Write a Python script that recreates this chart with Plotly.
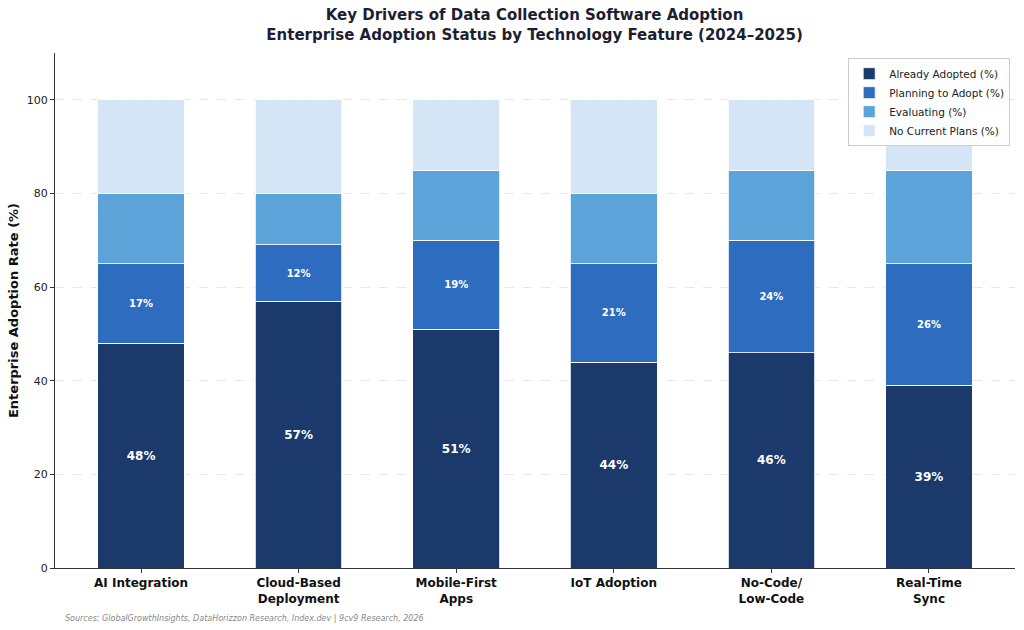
import plotly.graph_objects as go

categories = ["AI Integration", "Cloud-Based<br>Deployment", "Mobile-First<br>Apps",
              "IoT Adoption", "No-Code/<br>Low-Code", "Real-Time<br>Sync"]
adopted = [48, 57, 51, 44, 46, 39]
planning = [17, 12, 19, 21, 24, 26]
evaluating = [15, 11, 15, 15, 15, 20]
no_plans = [20, 20, 15, 20, 15, 15]

series = [
    ("Already Adopted (%)", adopted, "#1b3a6b", 12),
    ("Planning to Adopt (%)", planning, "#2d6cbf", 10),
    ("Evaluating (%)", evaluating, "#5ba3d9", None),
    ("No Current Plans (%)", no_plans, "#d4e6f5", None),
]

fig = go.Figure()
for name, vals, color, lab_size in series:
    fig.add_trace(go.Bar(
        x=categories, y=vals, name=name,
        marker=dict(color=color, line=dict(color="white", width=0.8)),
        text=[f"<b>{v}%</b>" for v in vals] if lab_size else None,
        textposition="inside" if lab_size else "none",
        insidetextanchor="middle",
        textfont=dict(color="white", size=lab_size or 10, family="DejaVu Sans"),
        hoverinfo="x+y+name",
    ))

fig.update_layout(
    barmode="stack",
    bargap=0.45,
    width=1024, height=630,
    font=dict(family="DejaVu Sans", color="#222", size=12),
    plot_bgcolor="white", paper_bgcolor="white",
    title=dict(
        text="<b>Key Drivers of Data Collection Software Adoption<br>Enterprise Adoption Status by Technology Feature (2024–2025)</b>",
        x=0.522, xanchor="center", y=0.968, yanchor="top",
        font=dict(size=15, color="#1e1e32"),
    ),
    margin=dict(l=55, r=9, t=53, b=62),
    legend=dict(
        x=0.995, y=0.99, xanchor="right", yanchor="top",
        bordercolor="#cccccc", borderwidth=1, bgcolor="rgba(255,255,255,0.9)",
        font=dict(size=10.5), traceorder="normal", tracegroupgap=0,
        itemwidth=30,
    ),
)
fig.update_xaxes(
    showline=True, linecolor="#333", linewidth=1,
    ticks="outside", ticklen=4, tickcolor="#333",
    tickfont=dict(size=12, color="#111"),
    range=[-0.546, 5.546], automargin=False,
    ticktext=[f"<b>{c}</b>" for c in categories], tickvals=categories,
)
fig.update_yaxes(
    range=[0, 110], tickvals=[0, 20, 40, 60, 80, 100],
    showline=True, linecolor="#333", linewidth=1,
    ticks="outside", ticklen=4, tickcolor="#333",
    tickfont=dict(size=11, color="#222"),
    showgrid=True, gridcolor="#e8e8e8", griddash="dash", gridwidth=1,
    zeroline=False, automargin=False,
    title=dict(text="<b>Enterprise Adoption Rate (%)</b>", font=dict(size=13, color="#111"), standoff=5),
)
fig.add_annotation(
    text="<i>Sources: GlobalGrowthInsights, DataHorizzon Research, Index.dev | 9cv9 Research, 2026</i>",
    xref="paper", yref="paper", x=0.008, y=-0.085, xanchor="left", yanchor="top",
    showarrow=False, font=dict(size=8, color="#888"),
)

fig.write_html("out.html", config={"displayModeBar": False},
               post_script="document.body.style.margin='0px';")
